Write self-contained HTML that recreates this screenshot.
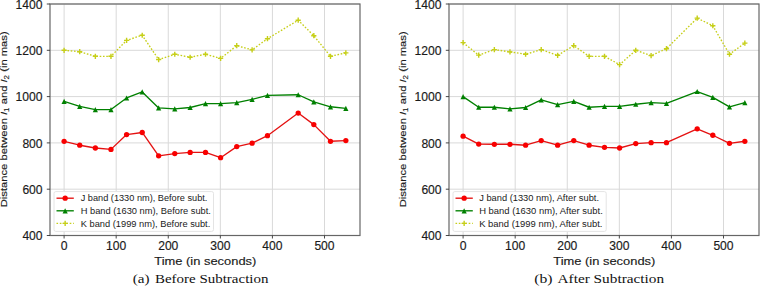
<!DOCTYPE html>
<html><head><meta charset="utf-8"><style>
html,body{margin:0;padding:0;background:#fff;}
svg{display:block;font-family:"Liberation Sans",sans-serif;}
text{stroke:#1a1a1a;stroke-width:0.15px;}
text.cap,text.leg{stroke:none;}
</style></head><body>
<svg width="760" height="287" viewBox="0 0 760 287">
<rect width="760" height="287" fill="#fff"/>
<line x1="64.10" y1="4.0" x2="64.10" y2="235.5" stroke="#d9d9d9" stroke-width="1"/>
<line x1="116.18" y1="4.0" x2="116.18" y2="235.5" stroke="#d9d9d9" stroke-width="1"/>
<line x1="168.26" y1="4.0" x2="168.26" y2="235.5" stroke="#d9d9d9" stroke-width="1"/>
<line x1="220.34" y1="4.0" x2="220.34" y2="235.5" stroke="#d9d9d9" stroke-width="1"/>
<line x1="272.42" y1="4.0" x2="272.42" y2="235.5" stroke="#d9d9d9" stroke-width="1"/>
<line x1="324.50" y1="4.0" x2="324.50" y2="235.5" stroke="#d9d9d9" stroke-width="1"/>
<line x1="50" y1="235.50" x2="360" y2="235.50" stroke="#d9d9d9" stroke-width="1"/>
<line x1="50" y1="189.20" x2="360" y2="189.20" stroke="#d9d9d9" stroke-width="1"/>
<line x1="50" y1="142.90" x2="360" y2="142.90" stroke="#d9d9d9" stroke-width="1"/>
<line x1="50" y1="96.60" x2="360" y2="96.60" stroke="#d9d9d9" stroke-width="1"/>
<line x1="50" y1="50.30" x2="360" y2="50.30" stroke="#d9d9d9" stroke-width="1"/>
<line x1="50" y1="4.00" x2="360" y2="4.00" stroke="#d9d9d9" stroke-width="1"/>
<polyline points="64.10,141.28 79.72,145.22 95.35,147.99 110.97,149.38 126.60,134.57 142.22,132.48 158.63,155.86 174.77,153.55 190.13,152.39 205.50,152.39 220.60,157.72 236.75,146.60 252.11,143.13 267.47,135.72 298.20,113.04 313.82,124.61 330.49,141.28 345.85,140.59" fill="none" stroke="#e41212" stroke-width="1.35" stroke-linejoin="round"/>
<circle cx="64.10" cy="141.28" r="2.65" fill="#f80000"/>
<circle cx="79.72" cy="145.22" r="2.65" fill="#f80000"/>
<circle cx="95.35" cy="147.99" r="2.65" fill="#f80000"/>
<circle cx="110.97" cy="149.38" r="2.65" fill="#f80000"/>
<circle cx="126.60" cy="134.57" r="2.65" fill="#f80000"/>
<circle cx="142.22" cy="132.48" r="2.65" fill="#f80000"/>
<circle cx="158.63" cy="155.86" r="2.65" fill="#f80000"/>
<circle cx="174.77" cy="153.55" r="2.65" fill="#f80000"/>
<circle cx="190.13" cy="152.39" r="2.65" fill="#f80000"/>
<circle cx="205.50" cy="152.39" r="2.65" fill="#f80000"/>
<circle cx="220.60" cy="157.72" r="2.65" fill="#f80000"/>
<circle cx="236.75" cy="146.60" r="2.65" fill="#f80000"/>
<circle cx="252.11" cy="143.13" r="2.65" fill="#f80000"/>
<circle cx="267.47" cy="135.72" r="2.65" fill="#f80000"/>
<circle cx="298.20" cy="113.04" r="2.65" fill="#f80000"/>
<circle cx="313.82" cy="124.61" r="2.65" fill="#f80000"/>
<circle cx="330.49" cy="141.28" r="2.65" fill="#f80000"/>
<circle cx="345.85" cy="140.59" r="2.65" fill="#f80000"/>
<polyline points="64.10,101.46 79.72,106.32 95.35,109.56 110.97,109.56 126.60,97.99 142.22,91.97 158.63,107.94 174.77,108.87 190.13,107.48 205.50,103.55 220.60,103.55 236.75,102.62 252.11,99.38 267.47,95.44 298.20,94.75 313.82,101.92 330.49,106.79 345.85,108.41" fill="none" stroke="#008000" stroke-width="1.35" stroke-linejoin="round"/>
<path d="M64.10,98.86L61.50,104.06L66.70,104.06Z" fill="#008000"/>
<path d="M79.72,103.72L77.12,108.92L82.32,108.92Z" fill="#008000"/>
<path d="M95.35,106.96L92.75,112.16L97.95,112.16Z" fill="#008000"/>
<path d="M110.97,106.96L108.37,112.16L113.57,112.16Z" fill="#008000"/>
<path d="M126.60,95.39L124.00,100.59L129.20,100.59Z" fill="#008000"/>
<path d="M142.22,89.37L139.62,94.57L144.82,94.57Z" fill="#008000"/>
<path d="M158.63,105.34L156.03,110.54L161.23,110.54Z" fill="#008000"/>
<path d="M174.77,106.27L172.17,111.47L177.37,111.47Z" fill="#008000"/>
<path d="M190.13,104.88L187.53,110.08L192.73,110.08Z" fill="#008000"/>
<path d="M205.50,100.95L202.90,106.14L208.10,106.14Z" fill="#008000"/>
<path d="M220.60,100.95L218.00,106.14L223.20,106.14Z" fill="#008000"/>
<path d="M236.75,100.02L234.15,105.22L239.35,105.22Z" fill="#008000"/>
<path d="M252.11,96.78L249.51,101.98L254.71,101.98Z" fill="#008000"/>
<path d="M267.47,92.84L264.87,98.04L270.07,98.04Z" fill="#008000"/>
<path d="M298.20,92.15L295.60,97.35L300.80,97.35Z" fill="#008000"/>
<path d="M313.82,99.32L311.22,104.52L316.42,104.52Z" fill="#008000"/>
<path d="M330.49,104.19L327.89,109.39L333.09,109.39Z" fill="#008000"/>
<path d="M345.85,105.81L343.25,111.01L348.45,111.01Z" fill="#008000"/>
<polyline points="64.10,50.30 79.72,51.69 95.35,56.32 110.97,56.32 126.60,40.35 142.22,35.25 158.63,59.56 174.77,54.24 190.13,57.24 205.50,54.24 220.60,58.40 236.75,45.67 252.11,49.84 267.47,38.73 298.20,20.20 313.82,35.72 330.49,56.32 345.85,52.85" fill="none" stroke="#c6cf18" stroke-width="1.35" stroke-dasharray="1.6 1.7" stroke-linejoin="round"/>
<path d="M61.50,50.30H66.70M64.10,47.70V52.90" stroke="#c6cf18" stroke-width="1.4"/>
<path d="M77.12,51.69H82.32M79.72,49.09V54.29" stroke="#c6cf18" stroke-width="1.4"/>
<path d="M92.75,56.32H97.95M95.35,53.72V58.92" stroke="#c6cf18" stroke-width="1.4"/>
<path d="M108.37,56.32H113.57M110.97,53.72V58.92" stroke="#c6cf18" stroke-width="1.4"/>
<path d="M124.00,40.35H129.20M126.60,37.75V42.95" stroke="#c6cf18" stroke-width="1.4"/>
<path d="M139.62,35.25H144.82M142.22,32.65V37.85" stroke="#c6cf18" stroke-width="1.4"/>
<path d="M156.03,59.56H161.23M158.63,56.96V62.16" stroke="#c6cf18" stroke-width="1.4"/>
<path d="M172.17,54.24H177.37M174.77,51.64V56.84" stroke="#c6cf18" stroke-width="1.4"/>
<path d="M187.53,57.24H192.73M190.13,54.64V59.84" stroke="#c6cf18" stroke-width="1.4"/>
<path d="M202.90,54.24H208.10M205.50,51.64V56.84" stroke="#c6cf18" stroke-width="1.4"/>
<path d="M218.00,58.40H223.20M220.60,55.80V61.00" stroke="#c6cf18" stroke-width="1.4"/>
<path d="M234.15,45.67H239.35M236.75,43.07V48.27" stroke="#c6cf18" stroke-width="1.4"/>
<path d="M249.51,49.84H254.71M252.11,47.24V52.44" stroke="#c6cf18" stroke-width="1.4"/>
<path d="M264.87,38.73H270.07M267.47,36.12V41.33" stroke="#c6cf18" stroke-width="1.4"/>
<path d="M295.60,20.20H300.80M298.20,17.60V22.80" stroke="#c6cf18" stroke-width="1.4"/>
<path d="M311.22,35.72H316.42M313.82,33.12V38.32" stroke="#c6cf18" stroke-width="1.4"/>
<path d="M327.89,56.32H333.09M330.49,53.72V58.92" stroke="#c6cf18" stroke-width="1.4"/>
<path d="M343.25,52.85H348.45M345.85,50.25V55.45" stroke="#c6cf18" stroke-width="1.4"/>
<rect x="54.0" y="191.6" width="159.5" height="39.8" rx="1.8" fill="#fff" stroke="#e4e4e4" stroke-width="1"/>
<line x1="56.50" y1="198.20" x2="73.80" y2="198.20" stroke="#e41212" stroke-width="1.35"/>
<circle cx="65.15" cy="198.20" r="2.65" fill="#f80000"/>
<text class="leg" x="80.70" y="201.40" font-size="9.2" textLength="126.7" lengthAdjust="spacingAndGlyphs" fill="#1a1a1a">J band (1330 nm), Before subt.</text>
<line x1="56.50" y1="210.80" x2="73.80" y2="210.80" stroke="#008000" stroke-width="1.35"/>
<path d="M65.15,208.20L62.55,213.40L67.75,213.40Z" fill="#008000"/>
<text class="leg" x="80.70" y="214.00" font-size="9.2" textLength="130.2" lengthAdjust="spacingAndGlyphs" fill="#1a1a1a">H band (1630 nm), Before subt.</text>
<line x1="56.50" y1="223.40" x2="73.80" y2="223.40" stroke="#c6cf18" stroke-width="1.35" stroke-dasharray="1.6 1.7"/>
<path d="M62.55,223.40H67.75M65.15,220.80V226.00" stroke="#c6cf18" stroke-width="1.4"/>
<text class="leg" x="80.70" y="226.60" font-size="9.2" textLength="129.6" lengthAdjust="spacingAndGlyphs" fill="#1a1a1a">K band (1999 nm), Before subt.</text>
<rect x="50" y="4.0" width="310" height="231.50" fill="none" stroke="#666666" stroke-width="1.2"/>
<line x1="64.10" y1="235.5" x2="64.10" y2="238.5" stroke="#333" stroke-width="0.9"/>
<text x="64.10" y="249.6" font-size="11.9" text-anchor="middle" textLength="6.8" lengthAdjust="spacingAndGlyphs" fill="#1a1a1a">0</text>
<line x1="116.18" y1="235.5" x2="116.18" y2="238.5" stroke="#333" stroke-width="0.9"/>
<text x="116.18" y="249.6" font-size="11.9" text-anchor="middle" textLength="20.2" lengthAdjust="spacingAndGlyphs" fill="#1a1a1a">100</text>
<line x1="168.26" y1="235.5" x2="168.26" y2="238.5" stroke="#333" stroke-width="0.9"/>
<text x="168.26" y="249.6" font-size="11.9" text-anchor="middle" textLength="20.2" lengthAdjust="spacingAndGlyphs" fill="#1a1a1a">200</text>
<line x1="220.34" y1="235.5" x2="220.34" y2="238.5" stroke="#333" stroke-width="0.9"/>
<text x="220.34" y="249.6" font-size="11.9" text-anchor="middle" textLength="20.2" lengthAdjust="spacingAndGlyphs" fill="#1a1a1a">300</text>
<line x1="272.42" y1="235.5" x2="272.42" y2="238.5" stroke="#333" stroke-width="0.9"/>
<text x="272.42" y="249.6" font-size="11.9" text-anchor="middle" textLength="20.2" lengthAdjust="spacingAndGlyphs" fill="#1a1a1a">400</text>
<line x1="324.50" y1="235.5" x2="324.50" y2="238.5" stroke="#333" stroke-width="0.9"/>
<text x="324.50" y="249.6" font-size="11.9" text-anchor="middle" textLength="20.2" lengthAdjust="spacingAndGlyphs" fill="#1a1a1a">500</text>
<line x1="46.8" y1="235.50" x2="50" y2="235.50" stroke="#333" stroke-width="0.9"/>
<text x="42.60" y="240.10" font-size="11.9" text-anchor="end" textLength="20.2" lengthAdjust="spacingAndGlyphs" fill="#1a1a1a">400</text>
<line x1="46.8" y1="189.20" x2="50" y2="189.20" stroke="#333" stroke-width="0.9"/>
<text x="42.60" y="193.80" font-size="11.9" text-anchor="end" textLength="20.2" lengthAdjust="spacingAndGlyphs" fill="#1a1a1a">600</text>
<line x1="46.8" y1="142.90" x2="50" y2="142.90" stroke="#333" stroke-width="0.9"/>
<text x="42.60" y="147.50" font-size="11.9" text-anchor="end" textLength="20.2" lengthAdjust="spacingAndGlyphs" fill="#1a1a1a">800</text>
<line x1="46.8" y1="96.60" x2="50" y2="96.60" stroke="#333" stroke-width="0.9"/>
<text x="42.60" y="101.20" font-size="11.9" text-anchor="end" textLength="27.0" lengthAdjust="spacingAndGlyphs" fill="#1a1a1a">1000</text>
<line x1="46.8" y1="50.30" x2="50" y2="50.30" stroke="#333" stroke-width="0.9"/>
<text x="42.60" y="54.90" font-size="11.9" text-anchor="end" textLength="27.0" lengthAdjust="spacingAndGlyphs" fill="#1a1a1a">1200</text>
<line x1="46.8" y1="4.00" x2="50" y2="4.00" stroke="#333" stroke-width="0.9"/>
<text x="42.60" y="8.60" font-size="11.9" text-anchor="end" textLength="27.0" lengthAdjust="spacingAndGlyphs" fill="#1a1a1a">1400</text>
<text x="205.30" y="264.6" font-size="11.6" text-anchor="middle" textLength="102" lengthAdjust="spacingAndGlyphs" fill="#1a1a1a">Time (in seconds)</text>
<text transform="translate(7.20,119.3) rotate(-90)" x="0" y="0" font-size="9.9" text-anchor="middle" textLength="176" lengthAdjust="spacingAndGlyphs" fill="#1a1a1a">Distance between <tspan font-style="italic">I</tspan><tspan font-size="7" dy="1.5">1</tspan><tspan dy="-1.5"> and </tspan><tspan font-style="italic">I</tspan><tspan font-size="7" dy="1.5">2</tspan><tspan dy="-1.5"> (in mas)</tspan></text>
<text class="cap" x="132.70" y="283.2" font-size="13.4" textLength="16.8" lengthAdjust="spacingAndGlyphs" font-family="Liberation Serif, serif" fill="#111">(a)</text>
<text class="cap" x="155.00" y="283.2" font-size="13.4" textLength="113.4" lengthAdjust="spacingAndGlyphs" font-family="Liberation Serif, serif" fill="#111">Before Subtraction</text>
<line x1="463.10" y1="4.0" x2="463.10" y2="235.5" stroke="#d9d9d9" stroke-width="1"/>
<line x1="515.18" y1="4.0" x2="515.18" y2="235.5" stroke="#d9d9d9" stroke-width="1"/>
<line x1="567.26" y1="4.0" x2="567.26" y2="235.5" stroke="#d9d9d9" stroke-width="1"/>
<line x1="619.34" y1="4.0" x2="619.34" y2="235.5" stroke="#d9d9d9" stroke-width="1"/>
<line x1="671.42" y1="4.0" x2="671.42" y2="235.5" stroke="#d9d9d9" stroke-width="1"/>
<line x1="723.50" y1="4.0" x2="723.50" y2="235.5" stroke="#d9d9d9" stroke-width="1"/>
<line x1="449" y1="235.50" x2="759" y2="235.50" stroke="#d9d9d9" stroke-width="1"/>
<line x1="449" y1="189.20" x2="759" y2="189.20" stroke="#d9d9d9" stroke-width="1"/>
<line x1="449" y1="142.90" x2="759" y2="142.90" stroke="#d9d9d9" stroke-width="1"/>
<line x1="449" y1="96.60" x2="759" y2="96.60" stroke="#d9d9d9" stroke-width="1"/>
<line x1="449" y1="50.30" x2="759" y2="50.30" stroke="#d9d9d9" stroke-width="1"/>
<line x1="449" y1="4.00" x2="759" y2="4.00" stroke="#d9d9d9" stroke-width="1"/>
<polyline points="463.10,136.19 478.72,144.06 494.35,144.29 509.97,144.29 525.60,145.22 541.22,140.59 557.63,145.22 573.77,140.59 589.13,145.22 604.50,147.30 619.60,147.99 635.75,143.59 651.11,142.67 666.47,142.67 697.20,128.78 712.82,135.26 729.49,143.36 744.85,141.28" fill="none" stroke="#e41212" stroke-width="1.35" stroke-linejoin="round"/>
<circle cx="463.10" cy="136.19" r="2.65" fill="#f80000"/>
<circle cx="478.72" cy="144.06" r="2.65" fill="#f80000"/>
<circle cx="494.35" cy="144.29" r="2.65" fill="#f80000"/>
<circle cx="509.97" cy="144.29" r="2.65" fill="#f80000"/>
<circle cx="525.60" cy="145.22" r="2.65" fill="#f80000"/>
<circle cx="541.22" cy="140.59" r="2.65" fill="#f80000"/>
<circle cx="557.63" cy="145.22" r="2.65" fill="#f80000"/>
<circle cx="573.77" cy="140.59" r="2.65" fill="#f80000"/>
<circle cx="589.13" cy="145.22" r="2.65" fill="#f80000"/>
<circle cx="604.50" cy="147.30" r="2.65" fill="#f80000"/>
<circle cx="619.60" cy="147.99" r="2.65" fill="#f80000"/>
<circle cx="635.75" cy="143.59" r="2.65" fill="#f80000"/>
<circle cx="651.11" cy="142.67" r="2.65" fill="#f80000"/>
<circle cx="666.47" cy="142.67" r="2.65" fill="#f80000"/>
<circle cx="697.20" cy="128.78" r="2.65" fill="#f80000"/>
<circle cx="712.82" cy="135.26" r="2.65" fill="#f80000"/>
<circle cx="729.49" cy="143.36" r="2.65" fill="#f80000"/>
<circle cx="744.85" cy="141.28" r="2.65" fill="#f80000"/>
<polyline points="463.10,96.60 478.72,107.25 494.35,107.25 509.97,108.87 525.60,107.48 541.22,99.84 557.63,104.70 573.77,101.46 589.13,107.25 604.50,106.32 619.60,106.32 635.75,104.24 651.11,102.62 666.47,103.31 697.20,91.51 712.82,97.29 729.49,106.79 744.85,102.62" fill="none" stroke="#008000" stroke-width="1.35" stroke-linejoin="round"/>
<path d="M463.10,94.00L460.50,99.20L465.70,99.20Z" fill="#008000"/>
<path d="M478.72,104.65L476.12,109.85L481.32,109.85Z" fill="#008000"/>
<path d="M494.35,104.65L491.75,109.85L496.95,109.85Z" fill="#008000"/>
<path d="M509.97,106.27L507.37,111.47L512.57,111.47Z" fill="#008000"/>
<path d="M525.60,104.88L523.00,110.08L528.20,110.08Z" fill="#008000"/>
<path d="M541.22,97.24L538.62,102.44L543.82,102.44Z" fill="#008000"/>
<path d="M557.63,102.10L555.03,107.30L560.23,107.30Z" fill="#008000"/>
<path d="M573.77,98.86L571.17,104.06L576.37,104.06Z" fill="#008000"/>
<path d="M589.13,104.65L586.53,109.85L591.73,109.85Z" fill="#008000"/>
<path d="M604.50,103.72L601.90,108.92L607.10,108.92Z" fill="#008000"/>
<path d="M619.60,103.72L617.00,108.92L622.20,108.92Z" fill="#008000"/>
<path d="M635.75,101.64L633.15,106.84L638.35,106.84Z" fill="#008000"/>
<path d="M651.11,100.02L648.51,105.22L653.71,105.22Z" fill="#008000"/>
<path d="M666.47,100.71L663.87,105.91L669.07,105.91Z" fill="#008000"/>
<path d="M697.20,88.91L694.60,94.11L699.80,94.11Z" fill="#008000"/>
<path d="M712.82,94.69L710.22,99.89L715.42,99.89Z" fill="#008000"/>
<path d="M729.49,104.19L726.89,109.39L732.09,109.39Z" fill="#008000"/>
<path d="M744.85,100.02L742.25,105.22L747.45,105.22Z" fill="#008000"/>
<polyline points="463.10,42.66 478.72,55.16 494.35,49.61 509.97,51.92 525.60,54.24 541.22,49.61 557.63,55.39 573.77,45.67 589.13,56.32 604.50,56.32 619.60,64.65 635.75,50.30 651.11,55.62 666.47,48.68 697.20,18.12 712.82,25.76 729.49,54.24 744.85,43.12" fill="none" stroke="#c6cf18" stroke-width="1.35" stroke-dasharray="1.6 1.7" stroke-linejoin="round"/>
<path d="M460.50,42.66H465.70M463.10,40.06V45.26" stroke="#c6cf18" stroke-width="1.4"/>
<path d="M476.12,55.16H481.32M478.72,52.56V57.76" stroke="#c6cf18" stroke-width="1.4"/>
<path d="M491.75,49.61H496.95M494.35,47.01V52.21" stroke="#c6cf18" stroke-width="1.4"/>
<path d="M507.37,51.92H512.57M509.97,49.32V54.52" stroke="#c6cf18" stroke-width="1.4"/>
<path d="M523.00,54.24H528.20M525.60,51.64V56.84" stroke="#c6cf18" stroke-width="1.4"/>
<path d="M538.62,49.61H543.82M541.22,47.01V52.21" stroke="#c6cf18" stroke-width="1.4"/>
<path d="M555.03,55.39H560.23M557.63,52.79V57.99" stroke="#c6cf18" stroke-width="1.4"/>
<path d="M571.17,45.67H576.37M573.77,43.07V48.27" stroke="#c6cf18" stroke-width="1.4"/>
<path d="M586.53,56.32H591.73M589.13,53.72V58.92" stroke="#c6cf18" stroke-width="1.4"/>
<path d="M601.90,56.32H607.10M604.50,53.72V58.92" stroke="#c6cf18" stroke-width="1.4"/>
<path d="M617.00,64.65H622.20M619.60,62.05V67.25" stroke="#c6cf18" stroke-width="1.4"/>
<path d="M633.15,50.30H638.35M635.75,47.70V52.90" stroke="#c6cf18" stroke-width="1.4"/>
<path d="M648.51,55.62H653.71M651.11,53.02V58.22" stroke="#c6cf18" stroke-width="1.4"/>
<path d="M663.87,48.68H669.07M666.47,46.08V51.28" stroke="#c6cf18" stroke-width="1.4"/>
<path d="M694.60,18.12H699.80M697.20,15.52V20.72" stroke="#c6cf18" stroke-width="1.4"/>
<path d="M710.22,25.76H715.42M712.82,23.16V28.36" stroke="#c6cf18" stroke-width="1.4"/>
<path d="M726.89,54.24H732.09M729.49,51.64V56.84" stroke="#c6cf18" stroke-width="1.4"/>
<path d="M742.25,43.12H747.45M744.85,40.52V45.72" stroke="#c6cf18" stroke-width="1.4"/>
<rect x="453" y="191.6" width="153.2" height="39.8" rx="1.8" fill="#fff" stroke="#e4e4e4" stroke-width="1"/>
<line x1="455.50" y1="198.20" x2="472.80" y2="198.20" stroke="#e41212" stroke-width="1.35"/>
<circle cx="464.15" cy="198.20" r="2.65" fill="#f80000"/>
<text class="leg" x="479.20" y="201.40" font-size="9.2" textLength="119.8" lengthAdjust="spacingAndGlyphs" fill="#1a1a1a">J band (1330 nm), After subt.</text>
<line x1="455.50" y1="210.80" x2="472.80" y2="210.80" stroke="#008000" stroke-width="1.35"/>
<path d="M464.15,208.20L461.55,213.40L466.75,213.40Z" fill="#008000"/>
<text class="leg" x="479.20" y="214.00" font-size="9.2" textLength="123.6" lengthAdjust="spacingAndGlyphs" fill="#1a1a1a">H band (1630 nm), After subt.</text>
<line x1="455.50" y1="223.40" x2="472.80" y2="223.40" stroke="#c6cf18" stroke-width="1.35" stroke-dasharray="1.6 1.7"/>
<path d="M461.55,223.40H466.75M464.15,220.80V226.00" stroke="#c6cf18" stroke-width="1.4"/>
<text class="leg" x="479.20" y="226.60" font-size="9.2" textLength="123.2" lengthAdjust="spacingAndGlyphs" fill="#1a1a1a">K band (1999 nm), After subt.</text>
<rect x="449" y="4.0" width="310" height="231.50" fill="none" stroke="#666666" stroke-width="1.2"/>
<line x1="463.10" y1="235.5" x2="463.10" y2="238.5" stroke="#333" stroke-width="0.9"/>
<text x="463.10" y="249.6" font-size="11.9" text-anchor="middle" textLength="6.8" lengthAdjust="spacingAndGlyphs" fill="#1a1a1a">0</text>
<line x1="515.18" y1="235.5" x2="515.18" y2="238.5" stroke="#333" stroke-width="0.9"/>
<text x="515.18" y="249.6" font-size="11.9" text-anchor="middle" textLength="20.2" lengthAdjust="spacingAndGlyphs" fill="#1a1a1a">100</text>
<line x1="567.26" y1="235.5" x2="567.26" y2="238.5" stroke="#333" stroke-width="0.9"/>
<text x="567.26" y="249.6" font-size="11.9" text-anchor="middle" textLength="20.2" lengthAdjust="spacingAndGlyphs" fill="#1a1a1a">200</text>
<line x1="619.34" y1="235.5" x2="619.34" y2="238.5" stroke="#333" stroke-width="0.9"/>
<text x="619.34" y="249.6" font-size="11.9" text-anchor="middle" textLength="20.2" lengthAdjust="spacingAndGlyphs" fill="#1a1a1a">300</text>
<line x1="671.42" y1="235.5" x2="671.42" y2="238.5" stroke="#333" stroke-width="0.9"/>
<text x="671.42" y="249.6" font-size="11.9" text-anchor="middle" textLength="20.2" lengthAdjust="spacingAndGlyphs" fill="#1a1a1a">400</text>
<line x1="723.50" y1="235.5" x2="723.50" y2="238.5" stroke="#333" stroke-width="0.9"/>
<text x="723.50" y="249.6" font-size="11.9" text-anchor="middle" textLength="20.2" lengthAdjust="spacingAndGlyphs" fill="#1a1a1a">500</text>
<line x1="445.8" y1="235.50" x2="449" y2="235.50" stroke="#333" stroke-width="0.9"/>
<text x="441.60" y="240.10" font-size="11.9" text-anchor="end" textLength="20.2" lengthAdjust="spacingAndGlyphs" fill="#1a1a1a">400</text>
<line x1="445.8" y1="189.20" x2="449" y2="189.20" stroke="#333" stroke-width="0.9"/>
<text x="441.60" y="193.80" font-size="11.9" text-anchor="end" textLength="20.2" lengthAdjust="spacingAndGlyphs" fill="#1a1a1a">600</text>
<line x1="445.8" y1="142.90" x2="449" y2="142.90" stroke="#333" stroke-width="0.9"/>
<text x="441.60" y="147.50" font-size="11.9" text-anchor="end" textLength="20.2" lengthAdjust="spacingAndGlyphs" fill="#1a1a1a">800</text>
<line x1="445.8" y1="96.60" x2="449" y2="96.60" stroke="#333" stroke-width="0.9"/>
<text x="441.60" y="101.20" font-size="11.9" text-anchor="end" textLength="27.0" lengthAdjust="spacingAndGlyphs" fill="#1a1a1a">1000</text>
<line x1="445.8" y1="50.30" x2="449" y2="50.30" stroke="#333" stroke-width="0.9"/>
<text x="441.60" y="54.90" font-size="11.9" text-anchor="end" textLength="27.0" lengthAdjust="spacingAndGlyphs" fill="#1a1a1a">1200</text>
<line x1="445.8" y1="4.00" x2="449" y2="4.00" stroke="#333" stroke-width="0.9"/>
<text x="441.60" y="8.60" font-size="11.9" text-anchor="end" textLength="27.0" lengthAdjust="spacingAndGlyphs" fill="#1a1a1a">1400</text>
<text x="604.30" y="264.6" font-size="11.6" text-anchor="middle" textLength="102" lengthAdjust="spacingAndGlyphs" fill="#1a1a1a">Time (in seconds)</text>
<text transform="translate(406.20,119.3) rotate(-90)" x="0" y="0" font-size="9.9" text-anchor="middle" textLength="176" lengthAdjust="spacingAndGlyphs" fill="#1a1a1a">Distance between <tspan font-style="italic">I</tspan><tspan font-size="7" dy="1.5">1</tspan><tspan dy="-1.5"> and </tspan><tspan font-style="italic">I</tspan><tspan font-size="7" dy="1.5">2</tspan><tspan dy="-1.5"> (in mas)</tspan></text>
<text class="cap" x="534.20" y="283.2" font-size="13.4" textLength="18.3" lengthAdjust="spacingAndGlyphs" font-family="Liberation Serif, serif" fill="#111">(b)</text>
<text class="cap" x="557.50" y="283.2" font-size="13.4" textLength="106.6" lengthAdjust="spacingAndGlyphs" font-family="Liberation Serif, serif" fill="#111">After Subtraction</text>
</svg>
</body></html>
